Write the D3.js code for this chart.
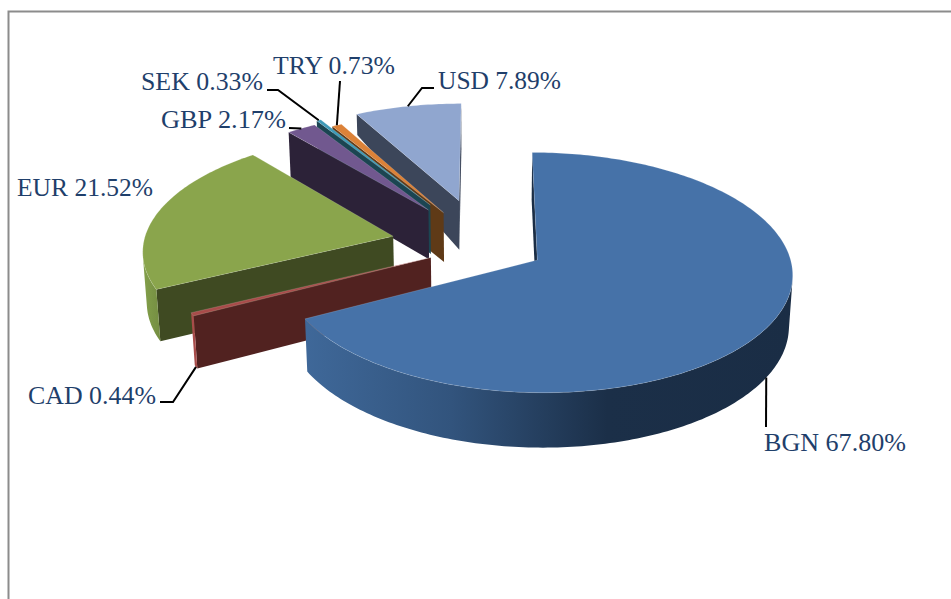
<!DOCTYPE html>
<html>
<head>
<meta charset="utf-8">
<script src="https://cdn.jsdelivr.net/npm/d3@7/dist/d3.min.js"></script>
<style>
  html, body { margin: 0; padding: 0; background: #fff; }
  svg { display: block; }
  text { font-family: "Liberation Serif", "Times New Roman", serif; font-size: 25.5px; fill: #1f3f6b; }
</style>
</head>
<body>
<svg id="chart" width="951" height="599"></svg>
<script>
// Currency composition, percent of total
const currencies = ["BGN", "CAD", "EUR", "GBP", "SEK", "TRY", "USD"];
const shares = [67.80, 0.44, 21.52, 2.17, 0.33, 0.73, 7.89];

// Appearance per slice
const explode = [0.25, 0.232, 0.37, 0.385, 0.42, 0.33, 0.41];
const topColors = ["#4672a8", "#a84c4a", "#8aa54c", "#71588f", "#3f9ab8", "#dc8238", "#90a6cf"];
const wallColors = ["#1a2d45", "#512220", "#3f4a22", "#2c2238", "#1b4552", "#5f3a17", "#3c465a"];
const wallFarDepth = [1, 1, 1, 1, 1, 1, 0.45];
const rimStops = [
  [[0, "#3f6899"], [0.3, "#32547d"], [0.62, "#1b2f48"], [1, "#1a2d45"]],
  [[0, "#a84c4a"], [1, "#a84c4a"]],
  [[0, "#83a04a"], [1, "#748d42"]],
  [[0, "#71588f"], [1, "#71588f"]],
  [[0, "#3f9ab8"], [1, "#3f9ab8"]],
  [[0, "#dc8238"], [1, "#dc8238"]],
  [[0, "#90a6cf"], [1, "#90a6cf"]]
];

// Label boxes: left x, baseline y, and the elbow of each leader (null = straight)
const labelX = [764, 28, 17, 161, 141, 273, 438];
const labelY = [451, 404, 196, 128, 90, 74, 89];
const labelWidth = [142, 128, 136, 125, 122, 122, 123];
const leaderStart = [[766, 427], [160, 402], null, [289, 128], [267, 90], [340, 81], [434, 88]];
const leaderElbow = [null, [173, 402], null, null, [278, 90], null, [422, 88]];
const leaderDepth = [1, 1, 0, 0, 0, 0, 0];

// Perspective camera: disc in the XY plane, depth along Z
const view = { cx: 483, cy: 245, rx: 250, ry: 115.7, depth: 51, tilt: 0.1027, sink: 0.012 };
function project(x, y, z) {
  const w = 1 - view.tilt * y + view.sink * z;
  return [view.cx + view.rx * x / w, view.cy + (view.ry * y + view.depth * z) / w];
}

const totalShare = d3.sum(shares);
const firstAngle = 0;
const pie = d3.pie().sort(null)
  .startAngle(firstAngle)
  .endAngle(firstAngle + 2 * Math.PI * totalShare / 100);
const arcs = pie(shares);

const svg = d3.select("#chart");
const defs = svg.append("defs");
const line = d3.line();
const closed = pts => line(pts) + "Z";

// Outer frame, open towards the right and the bottom
svg.append("path").attr("d", "M8.5,599V11.5H951")
  .attr("fill", "none").attr("stroke", "#8c8c8c").attr("stroke-width", 2);

function sliceGeometry(arc, i) {
  const mid = (arc.startAngle + arc.endAngle) / 2;
  const ox = explode[i] * Math.sin(mid);
  const oy = -explode[i] * Math.cos(mid);
  const rimAt = a => [ox + Math.sin(a), oy - Math.cos(a)];
  const n = Math.max(2, Math.ceil((arc.endAngle - arc.startAngle) / (Math.PI / 180)));
  const angles = d3.range(n + 1).map(k => arc.startAngle + (arc.endAngle - arc.startAngle) * k / n);
  return { mid, ox, oy, rimAt, angles };
}

// d3.polygonArea is positive for the winding a camera-facing wall gets here
const frontFacing = quad => d3.polygonArea(quad) > 0;

d3.range(arcs.length - 1, -1, -1).forEach(i => {
  const arc = arcs[i];
  const g = sliceGeometry(arc, i);
  const group = svg.append("g").attr("class", "slice").attr("data-currency", currencies[i]);
  const top = g.angles.map(a => g.rimAt(a));
  const apex = [g.ox, g.oy];

  // Radial walls, culled when they face away from the camera
  const walls = [[apex, top[0], 1, wallFarDepth[i]], [top[top.length - 1], apex, 1, 1]];
  walls.forEach(([a, b, da, db]) => {
    const quad = [project(a[0], a[1], 0), project(b[0], b[1], 0), project(b[0], b[1], db), project(a[0], a[1], da)];
    if (frontFacing(quad)) {
      group.append("path").attr("d", closed(quad)).attr("fill", wallColors[i]);
    }
  });

  // Outer rim, one path per visible run of segments
  const gradientId = "rim-" + currencies[i];
  const visible = d3.range(top.length - 1).filter(k => {
    const a = top[k], b = top[k + 1];
    return frontFacing([project(a[0], a[1], 0), project(b[0], b[1], 0), project(b[0], b[1], 1), project(a[0], a[1], 1)]);
  });
  if (visible.length && i !== 6) {
    const run = visible.concat(visible[visible.length - 1] + 1).map(k => top[k]);
    const upper = run.map(p => project(p[0], p[1], 0));
    const lower = run.map(p => project(p[0], p[1], 1)).reverse();
    const outline = upper.concat(lower);
    const [x1, x2] = d3.extent(outline, p => p[0]);
    const grad = defs.append("linearGradient").attr("id", gradientId)
      .attr("gradientUnits", "userSpaceOnUse")
      .attr("x1", x1).attr("x2", x2).attr("y1", 0).attr("y2", 0);
    rimStops[i].forEach(([o, c]) => grad.append("stop").attr("offset", o).attr("stop-color", c));
    group.append("path").attr("d", closed(outline)).attr("fill", `url(#${gradientId})`);
  }

  // Top face
  const face = [project(apex[0], apex[1], 0)].concat(top.map(p => project(p[0], p[1], 0)));
  group.append("path").attr("d", closed(face)).attr("fill", topColors[i])
    .attr("stroke", "#ffffff").attr("stroke-opacity", 0.25).attr("stroke-width", 0.6);
});

// Leaders and labels
arcs.forEach((arc, i) => {
  const g = sliceGeometry(arc, i);
  if (leaderStart[i]) {
    const rim = g.rimAt(g.mid);
    const pts = [leaderStart[i]];
    if (leaderElbow[i]) pts.push(leaderElbow[i]);
    pts.push(project(rim[0], rim[1], leaderDepth[i]));
    svg.append("path").attr("d", line(pts)).attr("fill", "none")
      .attr("stroke", "#000").attr("stroke-width", 2);
  }
  svg.append("text").attr("x", labelX[i]).attr("y", labelY[i])
    .attr("textLength", labelWidth[i]).attr("lengthAdjust", "spacingAndGlyphs")
    .text(`${currencies[i]} ${shares[i].toFixed(2)}%`);
});
</script>
</body>
</html>
